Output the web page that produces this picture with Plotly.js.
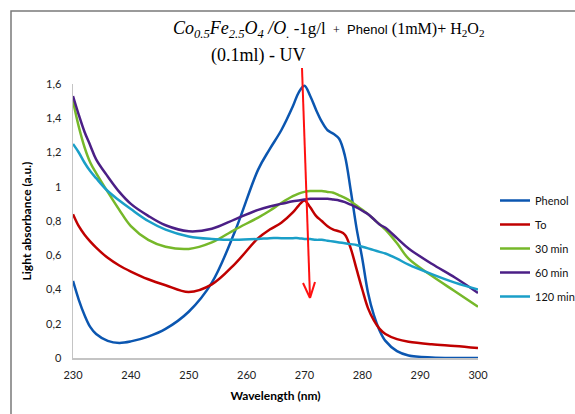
<!DOCTYPE html>
<html>
<head>
<meta charset="utf-8">
<script src="https://cdn.plot.ly/plotly-3.0.1.min.js"></script>
<style>html,body{margin:0;padding:0;background:#fff;}#chart{width:575px;height:414px;}</style>
</head>
<body>
<div id="chart"></div>
<script>
// Wavelength grid (nm)
const wavelength = [230,231,232,233,234,236,238,240,243,246,250,254,258,262,264,266,268,269,270,271,272,273,274,275,276,277,278,279,280,281,282,283,284,286,288,292,296,300];

// Light absorbance (a.u.)
const phenol = [0.45,0.34,0.25,0.18,0.14,0.10,0.088,0.097,0.125,0.17,0.27,0.44,0.74,1.10,1.22,1.33,1.47,1.55,1.59,1.53,1.45,1.38,1.33,1.31,1.28,1.18,0.98,0.76,0.58,0.38,0.25,0.16,0.10,0.04,0.015,0.003,0.0,0.0];
const t0 = [0.84,0.77,0.72,0.68,0.645,0.585,0.54,0.505,0.46,0.425,0.385,0.43,0.55,0.70,0.75,0.79,0.85,0.89,0.92,0.88,0.83,0.80,0.77,0.75,0.74,0.72,0.64,0.52,0.40,0.29,0.22,0.17,0.14,0.11,0.095,0.08,0.07,0.058];
const min30 = [1.50,1.35,1.23,1.14,1.08,0.97,0.865,0.77,0.69,0.65,0.637,0.675,0.75,0.82,0.86,0.905,0.945,0.96,0.97,0.975,0.975,0.975,0.97,0.965,0.95,0.935,0.915,0.89,0.865,0.84,0.81,0.78,0.75,0.67,0.58,0.48,0.39,0.30];
const min60 = [1.53,1.42,1.32,1.24,1.16,1.06,0.97,0.90,0.83,0.775,0.74,0.755,0.81,0.865,0.885,0.90,0.915,0.92,0.925,0.93,0.93,0.93,0.93,0.925,0.92,0.91,0.895,0.88,0.86,0.84,0.81,0.78,0.76,0.70,0.64,0.55,0.47,0.38];
const min120 = [1.25,1.20,1.14,1.09,1.05,0.975,0.92,0.87,0.80,0.75,0.71,0.695,0.69,0.695,0.70,0.70,0.70,0.70,0.695,0.695,0.69,0.69,0.685,0.68,0.675,0.67,0.665,0.66,0.65,0.64,0.63,0.62,0.61,0.58,0.545,0.49,0.44,0.40];

const seriesNames = ["Phenol","To","30 min","60 min","120 min"];
const seriesColors = ["#0b56b0","#c00000","#76b82a","#4b1f86","#1a9fc8"];
const seriesValues = [phenol, t0, min30, min60, min120];

const traces = seriesValues.map((vals, i) => ({
  type: "scatter", mode: "lines",
  x: wavelength, y: vals, name: seriesNames[i],
  legendgroup: "g" + i,
  line: {color: seriesColors[i], width: 2.5, shape: "spline", smoothing: 1}
}));

// pixel -> paper helpers for decorations
const L = 73, R = 478, T = 84, B = 358;
const px = v => (v - L) / (R - L);
const py = v => (B - v) / (B - T);

const layout = {
  width: 575, height: 414,
  margin: {l: L, r: 575 - R, t: T, b: 414 - B, autoexpand: false},
  paper_bgcolor: "#ffffff", plot_bgcolor: "#ffffff",
  separators: ", ",
  font: {family: "Lato, 'Liberation Sans', sans-serif", size: 11, color: "#222"},
  showlegend: true,
  legend: {
    x: px(495), y: py(186), xanchor: "left", yanchor: "top",
    font: {size: 11, color: "#111"}, tracegroupgap: 5,
    bgcolor: "rgba(0,0,0,0)"
  },
  xaxis: {
    range: [230, 300], dtick: 10, tick0: 230,
    showgrid: false, zeroline: false,
    showline: true, linecolor: "#c4c4c4", linewidth: 1.5,
    ticks: "outside", ticklen: 6, tickcolor: "rgba(0,0,0,0)",
    tickfont: {size: 11, color: "#222"},
    title: {text: "<b>Wavelength (nm)</b>", font: {size: 12, color: "#000"}, standoff: 12}
  },
  yaxis: {
    range: [0, 1.6], dtick: 0.2, tick0: 0,
    showgrid: false, zeroline: false,
    showline: true, linecolor: "#c4c4c4", linewidth: 1.5,
    ticks: "outside", ticklen: 8, tickcolor: "rgba(0,0,0,0)",
    tickfont: {size: 11, color: "#222"},
    title: {text: "<b>Light absorbance (a.u.)</b>", font: {size: 12, color: "#000"}, standoff: 12}
  },
  annotations: [
    {
      xref: "paper", yref: "paper", x: px(171), y: py(30), xanchor: "left", yanchor: "middle",
      showarrow: false,
      font: {family: "'Liberation Serif', 'DejaVu Serif', serif", size: 17, color: "#000"},
      text: "<span style=\"font-size:18px\"><i>Co<sub>0.5</sub>Fe<sub>2.5</sub>O<sub>4</sub> /O<sub>.</sub></i></span> -1g/l <span style=\"font-size:12px;color:#000\"> + </span> <span style=\"font-family:'Liberation Sans',Arial,sans-serif;font-size:13px;color:#000\">Phenol</span> <span style=\"font-size:16px\">(1mM)+ H<sub>2</sub>O<sub>2</sub></span>"
    },
    {
      xref: "paper", yref: "paper", x: px(209), y: py(56), xanchor: "left", yanchor: "middle",
      showarrow: false,
      font: {family: "'Liberation Serif', 'DejaVu Serif', serif", size: 18, color: "#000"},
      text: "(0.1ml) - UV"
    }
  ],
  shapes: [
    // outer frame (left and top edges visible)
    {type: "rect", xref: "paper", yref: "paper", x0: px(11), x1: px(700), y0: py(11), y1: py(600),
     line: {color: "#7a7a7a", width: 1.5}, fillcolor: "rgba(0,0,0,0)", layer: "below"},
    // red arrow
    {type: "line", xref: "paper", yref: "paper", x0: px(302), y0: py(68), x1: px(310), y1: py(297),
     line: {color: "#ff1010", width: 2}},
    {type: "line", xref: "paper", yref: "paper", x0: px(303), y0: py(283), x1: px(310), y1: py(298),
     line: {color: "#ff1010", width: 2}},
    {type: "line", xref: "paper", yref: "paper", x0: px(315), y0: py(282), x1: px(310), y1: py(298),
     line: {color: "#ff1010", width: 2}}
  ]
};

Plotly.newPlot("chart", traces, layout, {displayModeBar: false, staticPlot: true});
</script>
</body>
</html>
